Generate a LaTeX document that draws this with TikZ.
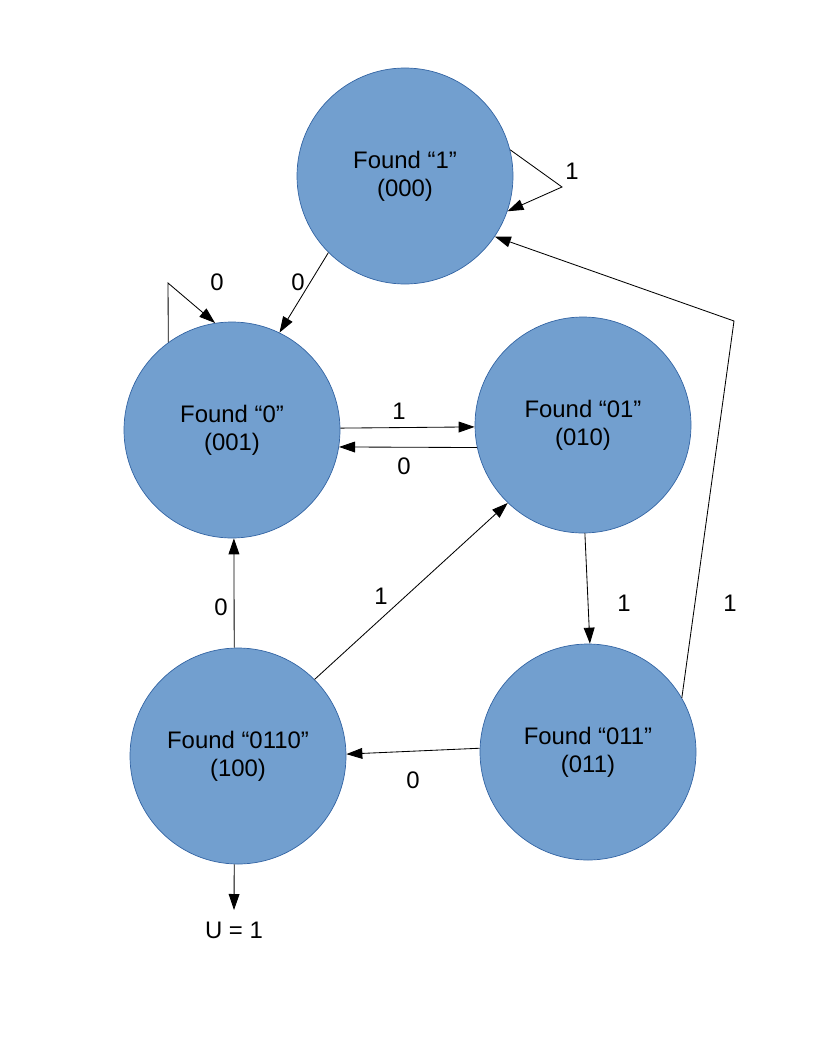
\documentclass[tikz,border=0pt]{standalone}
\usepackage{fontspec}
\setmainfont{Liberation Sans}
\usepackage{xcolor}
\usetikzlibrary{arrows.meta}

\definecolor{statefill}{HTML}{729FCF}
\definecolor{stateline}{HTML}{3465A4}

\tikzset{
  state/.style={circle, draw=stateline, fill=statefill, line width=0.5pt,
    minimum size=54mm, inner sep=0pt, align=center,
    font=\fontsize{17}{19.8}\selectfont},
  lbl/.style={font=\fontsize{17}{19.8}\selectfont, inner sep=0pt},
  arr/.style={-{Triangle[length=4mm,width=2.7mm]}, line width=0.6pt},
}

\begin{document}
\begin{tikzpicture}[x=0.25mm, y=-0.25mm]
                    \useasboundingbox (0,0) rectangle (816,1056);
                    % states
                    \node [state] (s000) at (405,176) {Found “1”\\(000)};
                    \node [state] (s001) at (232,430) {Found “0”\\(001)};
                    \node [state] (s010) at (583,425) {Found “01”\\(010)};
                    \node [state] (s100) at (238,756) {Found “0110”\\(100)};
                    \node [state] (s011) at (588,752) {Found “011”\\(011)};
                    % corners of the bent lines
                    \coordinate (k000) at (562,187);
                    \coordinate (k001) at (168,283);
                    \coordinate (k011) at (734,321);
                    \coordinate (out) at (234,910);
                    % transitions
                    \draw [arr] (s000.14) -- (k000) -- (s000.-19);
                    \draw [arr] (s000.-135) -- (s001.64);
                    \draw [arr] (s001.126) -- (k001) -- (s001.99);
                    \draw [arr] (s001.1) -- (s010.181.6);
                    \draw [arr] (s010.-168.5) -- (s001.-9);
                    \draw [arr] (s010.-89) -- (s011.89);
                    \draw [arr] (s011.178.4) -- (s100.1);
                    \draw [arr] (s100.92) -- (s001.-89);
                    \draw [arr] (s100.45) -- (s010.-134);
                    \draw [arr] (s011.30) -- (k011) -- (s000.-34);
                    \draw [arr] (s100.-92) -- (out);
                    % labels
                    \node [lbl] (l000) at (572,171) {1};
                    \node [lbl] (l000b) at (298,282) {0};
                    \node [lbl] (l001) at (217,282) {0};
                    \node [lbl] (l001b) at (399,411) {1};
                    \node [lbl] (l010) at (404,466) {0};
                    \node [lbl] (l010b) at (624,603) {1};
                    \node [lbl] (l011) at (730,603) {1};
                    \node [lbl] (l011b) at (413,780) {0};
                    \node [lbl] (l100) at (221,607) {0};
                    \node [lbl] (l100b) at (381,596) {1};
                    \node [lbl] (lout) at (234,930) {U = 1};
                \end{tikzpicture}
\end{document}
